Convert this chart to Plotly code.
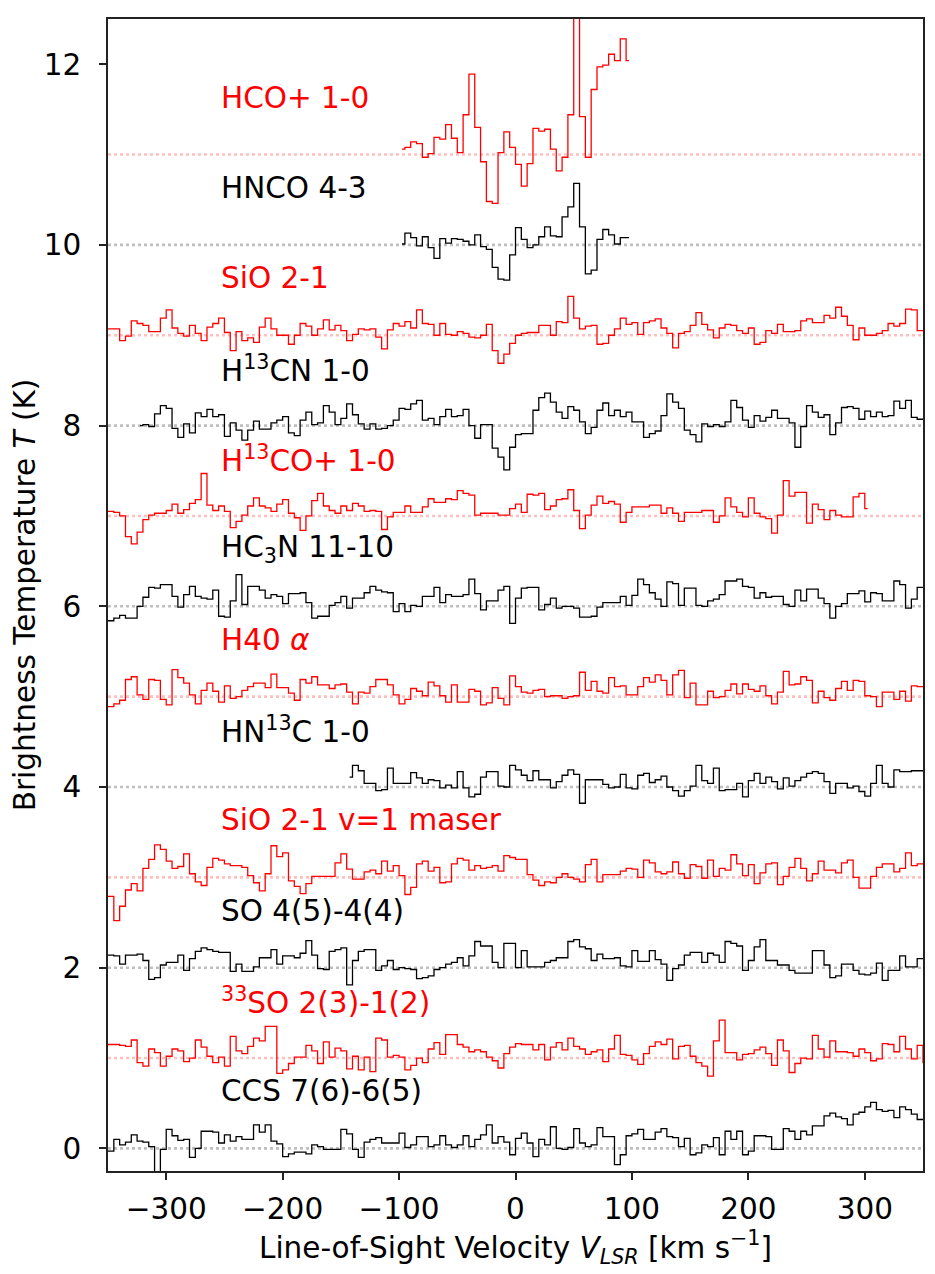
import plotly.graph_objects as go

# --- Spectra ----------------------------------------------------------------
# Brightness temperature per 5 km/s channel, already shifted by the
# stacking offset used in the figure (K). Channel centres start at V0_*.
CHAN = 5.0

V0_HCOP = -97.5
hcop_10 = [
    11.06, 11.08, 11.14, 11.12, 10.97, 11.01, 11.19, 11.17, 11.33, 11.18,
    11.02, 11.44, 11.89, 11.30, 10.92, 10.48, 10.46, 11.02, 11.25, 11.08,
    10.89, 10.65, 10.90, 11.29, 11.26, 11.28, 11.06, 10.82, 10.97, 11.44,
    12.90, 11.42, 10.97, 11.72, 11.97, 11.99, 12.11, 12.04, 12.28, 12.04,
]

V0_HNCO = -97.5
hnco_43 = [
    10.01, 10.13, 10.08, 9.99, 10.09, 9.97, 9.85, 10.07, 10.02, 10.07,
    10.06, 10.04, 10.00, 10.11, 9.98, 9.95, 9.75, 9.62, 9.61, 9.89,
    10.19, 10.06, 9.97, 10.00, 10.09, 10.20, 10.10, 10.09, 10.31, 10.42,
    10.68, 10.20, 9.68, 9.72, 10.06, 10.17, 10.11, 10.01, 10.08, 10.08,
]

V0_SIO = -352.5
sio_21 = [
    9.07, 9.07, 9.07, 8.94, 8.99, 9.16, 9.13, 9.11, 9.04, 9.04,
    9.19, 9.28, 9.08, 9.02, 8.99, 9.11, 9.02, 8.94, 9.09, 9.13,
    9.19, 9.03, 8.83, 9.04, 8.94, 8.97, 8.92, 9.09, 9.19, 9.07,
    9.00, 9.00, 8.90, 9.00, 9.13, 9.10, 9.00, 9.07, 9.17, 9.06,
    9.11, 9.05, 8.94, 9.01, 9.07, 9.06, 9.07, 8.98, 8.85,
    9.06, 9.13, 9.10, 9.15, 9.08, 9.28, 9.13, 9.12, 9.00, 9.13,
    9.01, 9.00, 9.04, 9.02, 8.98, 8.97, 9.00, 9.12, 8.83, 8.69,
    8.79, 8.91, 9.00, 9.02, 9.03, 9.03, 9.11, 9.11, 9.00, 9.15,
    9.14, 9.43, 9.19, 9.07, 9.10, 9.11, 8.90, 8.91, 9.00, 9.07,
    9.19, 9.12, 9.14, 9.01, 9.14, 9.16,
    9.18, 9.08, 9.02, 8.86, 9.02, 9.04, 9.11, 9.25, 9.12, 9.06,
    8.97, 9.08, 9.12, 9.11, 9.05, 9.02, 9.08, 8.90, 8.92, 9.05,
    9.02, 9.12, 9.04, 9.04, 9.05, 9.16, 9.18, 9.14, 9.14, 9.22,
    9.19, 9.31, 9.21, 9.11, 8.95, 9.08, 9.00, 9.00, 9.02, 9.05,
    9.13, 9.10, 9.13, 9.29, 9.28, 9.05, 9.05,
]

V0_H13CN = -322.5
h13cn_10 = [
    8.00, 8.01, 7.99, 8.13, 8.22, 8.19, 7.97, 7.87, 8.02, 7.92,
    8.14, 8.10, 8.18, 8.10, 8.12, 7.88, 8.03, 7.95, 7.84, 7.95,
    8.05, 7.96, 7.96, 8.03, 8.06, 8.10, 7.92, 7.89, 8.06, 8.15,
    8.01, 8.03, 8.22, 8.15, 8.01, 8.08, 8.24, 8.12, 8.02, 7.96,
    8.02, 7.96, 7.97,
    8.00, 8.06, 8.19, 8.18, 8.24, 8.28, 8.06, 8.08, 8.01, 8.10,
    8.18, 8.10, 8.11, 8.18, 8.00, 7.86, 8.01, 8.01, 7.75, 7.65,
    7.51, 7.76, 7.90, 7.91, 7.91, 8.17, 8.31, 8.36, 8.26, 8.15,
    8.08, 8.21, 8.17, 8.04, 7.91, 7.98, 8.17, 8.25, 8.11, 8.17,
    8.10, 8.15, 8.04, 8.04, 7.87, 7.91,
    7.94, 8.11, 8.35, 8.26, 8.19, 7.95, 7.90, 7.82, 8.02, 7.99,
    8.01, 7.99, 8.04, 8.28, 8.20, 8.06, 7.98, 8.11, 8.05, 8.09,
    8.17, 8.08, 8.08, 8.03, 7.76, 7.99, 8.22, 8.15, 8.09, 8.12,
    7.90, 8.03, 8.20, 8.21, 8.19, 8.07, 8.16, 8.10, 8.15, 8.10,
    8.11, 8.27, 8.19, 8.28, 8.09, 8.07, 8.07,
]

V0_H13COP = -352.5
h13cop_10 = [
    7.05, 7.05, 7.04, 7.00, 6.77, 6.69, 6.82, 6.96, 7.01, 7.03,
    7.03, 7.06, 7.13, 7.03, 7.07, 7.14, 7.18, 7.47, 7.12, 7.06,
    7.11, 7.05, 6.87, 6.94, 7.01, 7.11, 7.20, 7.11, 7.09, 7.05,
    7.13, 7.18, 7.03, 6.98, 6.84, 7.00, 7.17, 7.25, 7.11, 7.06,
    7.03, 7.11, 7.06, 7.14, 7.11, 7.05, 7.06, 7.05, 6.85,
    6.99, 7.04, 7.04, 7.11, 7.04, 7.04, 7.10, 7.19, 7.15, 7.15,
    7.19, 7.18, 7.28, 7.25, 7.23, 7.01, 7.03, 7.03, 7.03, 7.01,
    7.01, 7.08, 7.13, 7.04, 7.24, 7.23, 7.25, 7.07, 7.11, 7.18,
    7.19, 7.29, 7.06, 6.86, 7.01, 7.12, 7.22, 7.14, 7.16, 7.13,
    6.93, 7.04, 7.10, 7.10, 7.10, 7.12,
    7.12, 7.03, 7.09, 7.03, 6.94, 7.04, 7.04, 7.04, 7.06, 7.06,
    6.93, 7.00, 7.20, 7.10, 7.04, 6.99, 7.20, 7.03, 6.99, 6.97,
    6.81, 7.01, 7.39, 7.22, 7.26, 7.26, 6.92, 7.13, 7.07, 6.96,
    7.06, 7.01, 6.99, 6.99, 7.21, 7.25, 7.08,
]

V0_HC3N = -352.5
hc3n_1110 = [
    5.84, 5.84, 5.87, 5.90, 5.87, 5.87, 6.00, 6.10, 6.21, 6.20,
    6.24, 6.24, 6.11, 5.99, 6.13, 6.22, 6.11, 6.09, 6.08, 6.18,
    5.89, 5.88, 6.06, 6.35, 6.02, 6.22, 6.22, 6.18, 6.09, 6.13,
    6.11, 6.03, 6.14, 6.14, 6.15, 6.04, 5.87, 5.89, 5.89, 6.01,
    6.04, 6.11, 5.98, 6.09, 6.09, 6.15, 6.22, 6.18, 6.16,
    6.15, 5.94, 6.03, 5.94, 6.01, 6.00, 6.11, 6.11, 6.21, 6.04,
    6.13, 6.11, 6.11, 6.13, 6.30, 6.14, 5.96, 6.06, 6.06, 6.18,
    6.22, 5.81, 6.09, 6.20, 6.21, 6.21, 5.96, 6.02, 6.09, 5.98,
    6.00, 6.00, 5.98, 5.88, 5.88, 5.89, 5.99, 6.04, 6.04, 6.04,
    6.11, 6.01, 6.12, 6.30, 6.24, 6.15,
    6.08, 6.00, 6.27, 6.25, 6.01, 6.20, 6.20, 6.01, 6.00, 6.06,
    6.08, 6.13, 6.28, 6.28, 6.30, 6.22, 6.21, 6.09, 6.15, 6.10,
    6.11, 6.11, 6.02, 6.00, 6.18, 6.06, 6.19, 6.19, 6.09, 6.03,
    5.87, 6.00, 6.03, 6.14, 6.14, 6.17, 6.05, 6.15, 6.14, 6.06,
    6.06, 6.28, 6.24, 5.98, 6.08, 6.21, 6.21,
]

V0_H40A = -352.5
h40_alpha = [
    4.89, 4.89, 4.92, 4.96, 5.19, 5.22, 5.02, 4.97, 5.19, 5.18,
    4.97, 4.91, 5.30, 5.21, 5.15, 5.02, 4.92, 5.07, 5.15, 5.06,
    4.94, 5.12, 4.98, 5.00, 5.07, 5.11, 5.15, 5.15, 5.10, 5.25,
    5.10, 5.10, 5.04, 4.96, 5.19, 5.15, 5.22, 5.13, 5.13, 5.09,
    5.13, 5.14, 5.05, 4.92, 5.05, 5.04, 5.11, 5.19, 5.19,
    5.13, 5.02, 4.92, 4.97, 5.09, 5.06, 5.01, 5.16, 5.12, 5.01,
    4.94, 5.13, 4.94, 4.94, 5.08, 5.06, 4.91, 4.93, 5.10, 4.98,
    4.91, 5.23, 5.11, 5.05, 5.04, 5.07, 5.08, 5.00, 5.01, 5.01,
    4.98, 5.00, 5.01, 5.27, 5.07, 5.17, 5.06, 5.04, 5.21, 5.11,
    5.12, 5.02, 5.02, 5.11, 5.21, 5.16,
    5.24, 5.18, 5.02, 5.24, 5.29, 4.99, 5.15, 4.91, 4.91, 5.06,
    4.99, 5.00, 5.07, 5.14, 5.03, 5.14, 5.08, 5.06, 5.12, 5.01,
    4.92, 5.05, 5.28, 5.13, 5.14, 5.22, 5.18, 4.93, 5.06, 4.99,
    4.96, 5.09, 5.17, 5.07, 5.18, 5.17, 5.01, 5.00, 4.89, 5.05,
    5.05, 4.97, 5.06, 4.95, 5.12, 5.11, 5.11,
]

V0_HN13C = -142.5
hn13c_10 = [
    4.11, 4.24, 4.18, 4.04, 4.04, 3.96, 3.97,
    4.21, 4.04, 4.04, 4.04, 4.16, 4.10, 4.04, 4.08, 4.07, 3.99,
    4.02, 3.99, 4.17, 3.99, 3.89, 3.92, 4.11, 4.17, 4.17, 4.01,
    4.00, 4.24, 4.19, 4.13, 4.07, 4.18, 4.08, 4.08, 3.99, 4.06,
    4.13, 4.19, 4.14, 3.82, 4.08, 4.08, 4.08, 4.03, 3.99, 4.00,
    4.14, 3.99, 3.98, 4.13, 4.15, 4.05,
    4.08, 4.12, 4.00, 3.96, 3.90, 3.96, 4.01, 4.24, 4.07, 4.04,
    4.21, 3.96, 3.97, 3.97, 4.04, 3.89, 4.07, 4.15, 4.04, 4.11,
    4.06, 3.98, 4.10, 4.01, 4.07, 4.11, 4.15, 4.17, 4.15, 4.06,
    3.93, 4.04, 4.04, 3.99, 4.01, 3.95, 3.90, 4.04, 4.24, 4.04,
    4.00, 4.19, 4.17, 4.17, 4.18, 4.18, 4.18,
]

V0_SIOV1 = -352.5
sio_v1_maser = [
    2.79, 2.79, 2.52, 2.68, 2.86, 2.93, 2.85, 3.10, 3.20, 3.36,
    3.31, 3.18, 3.10, 3.12, 3.26, 3.04, 2.95, 2.91, 3.11, 3.21,
    3.19, 3.15, 3.13, 3.13, 3.11, 3.02, 2.94, 2.85, 3.04, 3.35,
    3.23, 3.27, 2.96, 2.90, 2.82, 2.93, 3.01, 3.01, 3.01, 3.01,
    3.16, 3.26, 3.09, 2.98, 2.98, 3.06, 3.08, 3.04, 3.18,
    3.07, 3.13, 3.02, 2.81, 2.89, 3.15, 3.18, 3.07, 3.11, 2.94,
    2.95, 3.15, 3.21, 3.19, 3.08, 3.13, 3.10, 3.11, 3.13, 3.07,
    3.24, 3.22, 3.20, 3.20, 3.03, 2.97, 2.91, 2.95, 2.94, 3.00,
    3.04, 3.00, 2.98, 2.95, 3.14, 3.20, 2.95, 3.03, 3.03, 3.03,
    3.07, 3.10, 3.09, 3.00, 3.19, 3.16,
    3.06, 3.04, 3.06, 3.17, 3.04, 2.99, 3.14, 3.12, 2.99, 3.19,
    3.01, 3.10, 3.08, 3.25, 3.15, 3.02, 3.14, 2.93, 3.05, 3.15,
    3.16, 2.92, 3.01, 3.11, 3.21, 3.10, 2.96, 3.04, 3.18, 3.08,
    3.08, 3.05, 3.16, 3.19, 3.00, 2.88, 2.88, 3.01, 3.11, 3.15,
    3.15, 3.06, 3.10, 3.27, 3.13, 3.15, 3.15,
]

V0_SO = -352.5
so_54 = [
    2.14, 2.14, 2.13, 2.04, 2.14, 2.14, 2.15, 2.08, 1.87, 1.89,
    2.03, 2.06, 2.06, 2.14, 1.97, 2.10, 2.18, 2.22, 2.20, 2.18,
    2.17, 2.17, 1.96, 2.04, 1.96, 1.96, 2.01, 2.11, 2.11, 2.20,
    2.04, 2.13, 2.13, 2.11, 2.16, 2.30, 2.14, 1.99, 1.98, 2.18,
    2.20, 2.22, 1.81, 2.08, 2.18, 2.20, 2.20, 1.97, 2.02,
    2.08, 1.98, 2.00, 1.99, 1.98, 1.88, 1.89, 1.91, 1.98, 2.00,
    2.04, 2.06, 2.11, 2.02, 2.13, 2.29, 2.24, 2.24, 2.06, 2.00,
    2.27, 2.27, 2.00, 2.19, 2.01, 2.01, 2.01, 2.06, 2.08, 2.11,
    2.11, 2.29, 2.31, 2.23, 2.21, 2.08, 2.15, 2.10, 2.10, 2.11,
    2.02, 2.01, 2.19, 2.07, 2.07, 2.19,
    2.09, 2.04, 1.86, 1.99, 2.03, 2.14, 2.17, 2.17, 2.06, 2.16,
    2.14, 2.06, 2.29, 2.27, 2.24, 1.97, 2.08, 2.23, 2.31, 2.08,
    2.08, 2.03, 2.03, 1.97, 1.94, 1.94, 1.94, 2.19, 2.19, 2.03,
    1.89, 1.91, 2.04, 2.04, 1.97, 1.93, 1.92, 1.94, 2.05, 1.86,
    1.97, 1.97, 2.13, 2.01, 2.01, 2.10, 2.10,
]

V0_33SO = -352.5
so33_2312 = [
    1.15, 1.15, 1.15, 1.14, 1.13, 1.20, 0.95, 0.91, 1.10, 1.06,
    0.91, 1.02, 1.10, 1.08, 0.96, 1.00, 1.20, 1.12, 1.02, 0.95,
    1.01, 0.91, 1.24, 1.08, 1.05, 1.13, 1.22, 1.19, 1.35, 1.35,
    0.83, 0.87, 0.94, 1.01, 1.01, 1.14, 1.08, 0.94, 1.18, 1.01,
    1.11, 1.08, 0.88, 1.02, 0.87, 1.01, 0.85, 1.22, 1.20,
    1.01, 1.03, 1.01, 0.87, 0.92, 1.00, 0.95, 1.10, 1.17, 1.04,
    1.26, 1.26, 1.15, 1.12, 1.07, 1.09, 1.07, 1.01, 0.97, 0.89,
    1.05, 1.12, 1.16, 1.15, 1.15, 1.09, 1.15, 0.98, 1.12, 1.17,
    1.09, 1.22, 1.13, 1.10, 1.04, 1.07, 1.09, 0.96, 1.10, 1.25,
    1.04, 1.03, 0.98, 0.93, 1.05, 1.13,
    1.18, 1.15, 1.21, 0.99, 1.13, 1.14, 1.02, 0.95, 0.91, 0.80,
    1.19, 1.42, 1.06, 1.06, 0.98, 1.04, 1.05, 1.09, 1.12, 1.05,
    0.92, 1.20, 1.08, 0.84, 0.94, 1.00, 0.99, 1.25, 1.10, 1.01,
    1.19, 1.07, 1.07, 1.06, 1.02, 1.10, 1.06, 0.97, 0.99, 1.16,
    1.15, 1.07, 1.24, 1.10, 0.99, 1.14, 0.95,
]

V0_CCS = -352.5
ccs_7665 = [
    -0.03, -0.03, 0.10, 0.04, 0.07, 0.15, 0.08, 0.07, 0.02, -0.33,
    -0.01, 0.21, 0.14, 0.09, 0.10, -0.10, 0.00, 0.19, 0.19, 0.18,
    0.06, 0.15, 0.08, 0.13, 0.10, 0.10, 0.26, 0.18, 0.26, 0.08,
    0.05, -0.09, -0.06, -0.04, -0.04, -0.06, 0.04, 0.02, -0.01, -0.01,
    -0.01, 0.21, 0.16, -0.01, -0.10, 0.07, 0.10, 0.12, 0.06,
    0.06, 0.06, 0.17, 0.01, 0.04, 0.13, 0.13, 0.02, 0.04, 0.14,
    0.04, 0.01, 0.04, 0.14, 0.02, 0.10, 0.15, 0.26, 0.06, 0.13,
    0.07, -0.07, 0.11, 0.17, 0.06, -0.09, 0.10, 0.04, 0.24, 0.00,
    -0.01, 0.01, 0.22, 0.06, 0.02, 0.04, 0.23, 0.13, 0.13, -0.18,
    -0.07, 0.14, 0.16, 0.21, 0.10, 0.10,
    0.18, 0.22, 0.13, 0.12, 0.02, 0.11, -0.07, -0.05, 0.04, 0.02,
    0.12, -0.07, 0.19, 0.10, 0.19, -0.07, -0.03, 0.14, 0.14, 0.13,
    -0.01, -0.01, 0.22, 0.19, 0.10, 0.19, 0.15, 0.25, 0.25, 0.36,
    0.39, 0.35, 0.33, 0.26, 0.38, 0.40, 0.46, 0.51, 0.43, 0.41,
    0.42, 0.34, 0.46, 0.43, 0.38, 0.32, 0.32,
]

# label, spectrum, first channel velocity, stacking offset
LINES = [
    ("HCO+ 1-0", hcop_10, V0_HCOP, 11),
    ("HNCO 4-3", hnco_43, V0_HNCO, 10),
    ("SiO 2-1", sio_21, V0_SIO, 9),
    ("H<sup>13</sup>CN 1-0", h13cn_10, V0_H13CN, 8),
    ("H<sup>13</sup>CO+ 1-0", h13cop_10, V0_H13COP, 7),
    ("HC<sub>3</sub>N 11-10", hc3n_1110, V0_HC3N, 6),
    ("H40 <i>α</i>", h40_alpha, V0_H40A, 5),
    ("HN<sup>13</sup>C 1-0", hn13c_10, V0_HN13C, 4),
    ("SiO 2-1 v=1 maser", sio_v1_maser, V0_SIOV1, 3),
    ("SO 4(5)-4(4)", so_54, V0_SO, 2),
    ("<sup>33</sup>SO 2(3)-1(2)", so33_2312, V0_33SO, 1),
    ("CCS 7(6)-6(5)", ccs_7665, V0_CCS, 0),
]

LABEL_V = -255     # left edge of the line names (km/s)
LABEL_DY = 0.63    # height of the name above its baseline (K)

FONT = "DejaVu Sans"
FS = 29.5

# --- Figure -----------------------------------------------------------------
fig = go.Figure()

for i, (label, spec, v0, off) in enumerate(LINES):
    red = i % 2 == 0
    color = "#ff0000" if red else "#000000"
    base_color = "#ffbfbf" if red else "#bfbfbf"
    vel = [v0 + CHAN * k for k in range(len(spec))]

    # dotted zero level of this spectrum
    fig.add_trace(go.Scatter(
        x=[-350, 350], y=[off, off], mode="lines",
        line=dict(color=base_color, width=2.6, dash="3px,3px"),
        hoverinfo="skip", showlegend=False))

    fig.add_trace(go.Scatter(
        x=vel, y=spec, mode="lines", line_shape="hvh",
        line=dict(color=color, width=1.3),
        name=label, showlegend=False))

    fig.add_annotation(
        x=LABEL_V, y=off + LABEL_DY, text=label, showarrow=False,
        xanchor="left", yanchor="middle",
        font=dict(family=FONT, size=FS, color=color))

fig.update_layout(
    width=935, height=1274,
    margin=dict(l=100, r=20, t=9, b=111),
    paper_bgcolor="white", plot_bgcolor="white",
    font=dict(family=FONT, size=FS, color="black"),
)

fig.update_xaxes(
    range=[-350, 350], tickvals=[-300, -200, -100, 0, 100, 200, 300],
    showgrid=False, zeroline=False,
    showline=True, mirror=True, linecolor="#222222", linewidth=1.6,
    ticks="outside", ticklen=7, tickwidth=1.6, tickcolor="#222222",
    tickfont=dict(family=FONT, size=FS), ticklabelstandoff=4,
    title=dict(text="Line-of-Sight Velocity <i>V<sub>LSR</sub></i> [km s<sup>−1</sup>]",
               font=dict(family=FONT, size=FS), standoff=0),
)
fig.update_yaxes(
    range=[-0.25, 12.5], tickvals=[0, 2, 4, 6, 8, 10, 12],
    showgrid=False, zeroline=False,
    showline=True, mirror=True, linecolor="#222222", linewidth=1.6,
    ticks="outside", ticklen=7, tickwidth=1.6, tickcolor="#222222",
    tickfont=dict(family=FONT, size=FS), ticklabelstandoff=12,
    title=dict(text="Brightness Temperature <i>T</i> (K)",
               font=dict(family=FONT, size=FS), standoff=0),
)

fig.write_html("out.html")
